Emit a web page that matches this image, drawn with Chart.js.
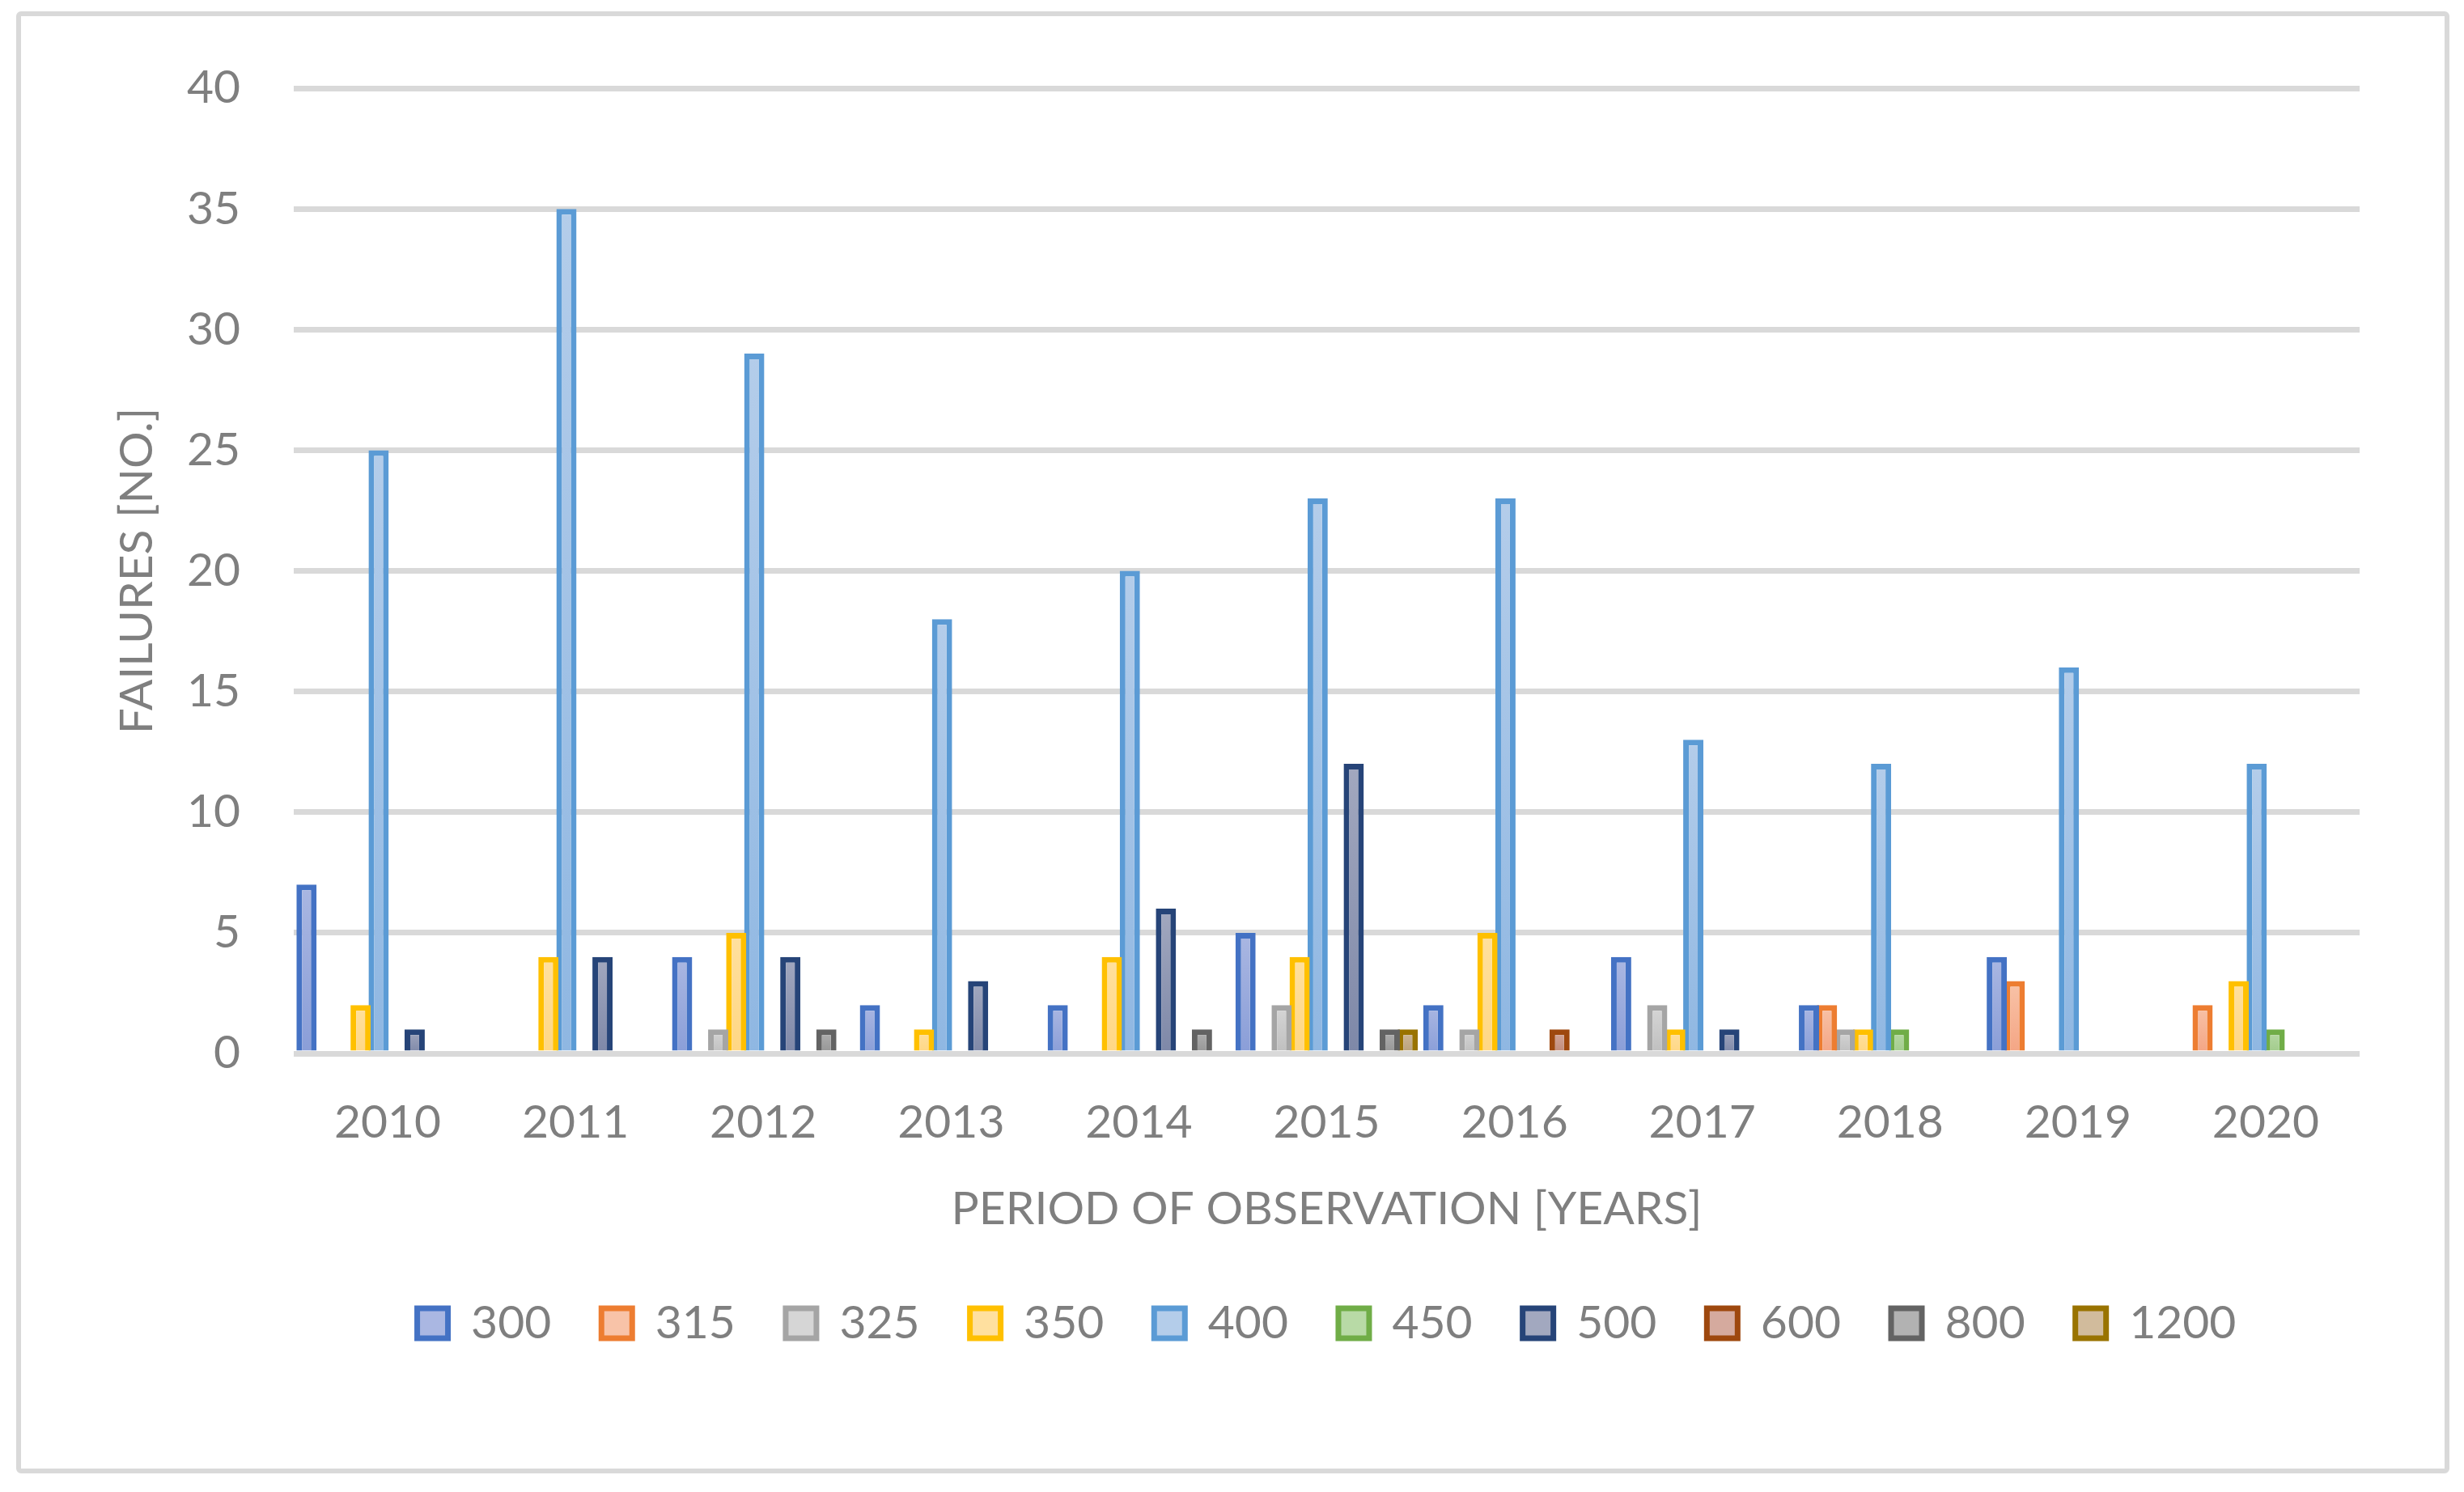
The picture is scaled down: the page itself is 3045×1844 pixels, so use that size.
<!DOCTYPE html>
<html>
<head>
<meta charset="utf-8">
<script src="https://cdn.jsdelivr.net/npm/chart.js@4.4.1/dist/chart.umd.min.js"></script>
<style>
  html, body { margin: 0; padding: 0; background: #fff; }
  #wrap { position: relative; width: 3045px; height: 1844px; }
  #frame {
    position: absolute; left: 20px; top: 14px; width: 2995px; height: 1795px;
    border: 6px solid #d9d9d9; border-radius: 6px; pointer-events: none;
  }
</style>
</head>
<body>
<div id="wrap">
  <canvas id="Chart1" width="3045" height="1844"></canvas>
  <div id="frame"></div>
</div>
<script>
// years on the x axis
const years = ['2010', '2011', '2012', '2013', '2014', '2015', '2016', '2017', '2018', '2019', '2020'];
const yTicks = [0, 5, 10, 15, 20, 25, 30, 35, 40];

// failures per year, one array per series
const f300  = [7, 0, 4, 2, 2, 5, 2, 4, 2, 4, 0];
const f315  = [0, 0, 0, 0, 0, 0, 0, 0, 2, 3, 2];
const f325  = [0, 0, 1, 0, 0, 2, 1, 2, 1, 0, 0];
const f350  = [2, 4, 5, 1, 4, 4, 5, 1, 1, 0, 3];
const f400  = [25, 35, 29, 18, 20, 23, 23, 13, 12, 16, 12];
const f450  = [0, 0, 0, 0, 0, 0, 0, 0, 1, 0, 1];
const f500  = [1, 4, 4, 3, 6, 12, 0, 1, 0, 0, 0];
const f600  = [0, 0, 0, 0, 0, 0, 1, 0, 0, 0, 0];
const f800  = [0, 0, 1, 0, 1, 1, 0, 0, 0, 0, 0];
const f1200 = [0, 0, 0, 0, 0, 1, 0, 0, 0, 0, 0];

const seriesNames = ['300', '315', '325', '350', '400', '450', '500', '600', '800', '1200'];
const seriesValues = [f300, f315, f325, f350, f400, f450, f500, f600, f800, f1200];

// border, light (top), dark (bottom)
const palette = [
  ['#4472c4', '#aab7e2', '#8a9ed8'],
  ['#ed7d31', '#f8c3a8', '#f4a584'],
  ['#a5a5a5', '#d6d6d6', '#bfbfbf'],
  ['#ffc000', '#ffe09f', '#ffd783'],
  ['#5b9bd5', '#b4cdea', '#8fb7e2'],
  ['#70ad47', '#b8daa6', '#a1cb8b'],
  ['#264478', '#a2a8bf', '#7e88a8'],
  ['#9e480e', '#d5aa9e', '#c08a78'],
  ['#636363', '#b2b2b2', '#959595'],
  ['#997300', '#d1bb9c', '#b8a07a']
];

const textGrey = '#7f7f7f';
const fontFam = 'Lato, "Open Sans", sans-serif';

// gradient per bar, light at the top, darker at the base
function barFill(light, dark) {
  return function(c) {
    const chart = c.chart;
    if (c.type !== 'data' || !chart.chartArea || !chart.scales.y) return dark;
    const y = chart.scales.y;
    const top = y.getPixelForValue(c.parsed.y);
    const base = y.getPixelForValue(0);
    if (!(base > top)) return dark;
    const g = chart.ctx.createLinearGradient(0, top, 0, base);
    g.addColorStop(0, light);
    g.addColorStop(1, dark);
    return g;
  };
}

const datasets = seriesNames.map((name, i) => ({
  label: name,
  data: seriesValues[i],
  backgroundColor: barFill(palette[i][1], palette[i][2]),
  borderColor: palette[i][0],
  borderWidth: 7,
  categoryPercentage: 0.96,
  barPercentage: 1.12
}));

var ctx1 = document.getElementById('Chart1').getContext('2d');
var myChart1 = new Chart(ctx1, {
  type: 'bar',
  data: {
    labels: years,
    datasets: datasets
  },
  options: {
    responsive: false,
    animation: false,
    devicePixelRatio: 1,
    layout: {
      padding: { left: 0, right: 129, top: 109, bottom: 170 }
    },
    plugins: {
      tooltip: { enabled: false },
      legend: {
        position: 'bottom',
        fullSize: false,
        labels: {
          color: textGrey,
          font: { family: fontFam, size: 57 },
          boxWidth: 38,
          boxHeight: 37,
          padding: 62,
          generateLabels: function(chart) {
            const items = Chart.defaults.plugins.legend.labels.generateLabels(chart);
            items.forEach((it, i) => {
              it.fillStyle = palette[i][1];
              it.strokeStyle = palette[i][0];
              it.lineWidth = 7;
            });
            return items;
          }
        }
      }
    },
    scales: {
      x: {
        grid: { display: false, drawTicks: false },
        border: { display: false },
        ticks: {
          color: textGrey,
          font: { family: fontFam, size: 57 },
          padding: 51
        },
        title: {
          display: true,
          text: 'PERIOD OF OBSERVATION [YEARS]',
          color: textGrey,
          font: { family: fontFam, size: 57 },
          padding: { top: 2, bottom: 16 }
        },
        afterFit: function(scale) { scale.height = 243; }
      },
      y: {
        min: 0,
        max: 40,
        grid: { color: '#d9d9d9', lineWidth: 7, drawTicks: false },
        border: { display: false },
        afterBuildTicks: function(scale) {
          scale.ticks = yTicks.map(v => ({ value: v }));
        },
        ticks: {
          color: textGrey,
          font: { family: fontFam, size: 57 },
          padding: 66
        },
        title: {
          display: true,
          text: 'FAILURES [NO.]',
          color: textGrey,
          font: { family: fontFam, size: 57 },
          padding: { top: 135, bottom: 0 }
        },
        afterFit: function(scale) { scale.width = 363; }
      }
    }
  }
});
</script>
</body>
</html>
